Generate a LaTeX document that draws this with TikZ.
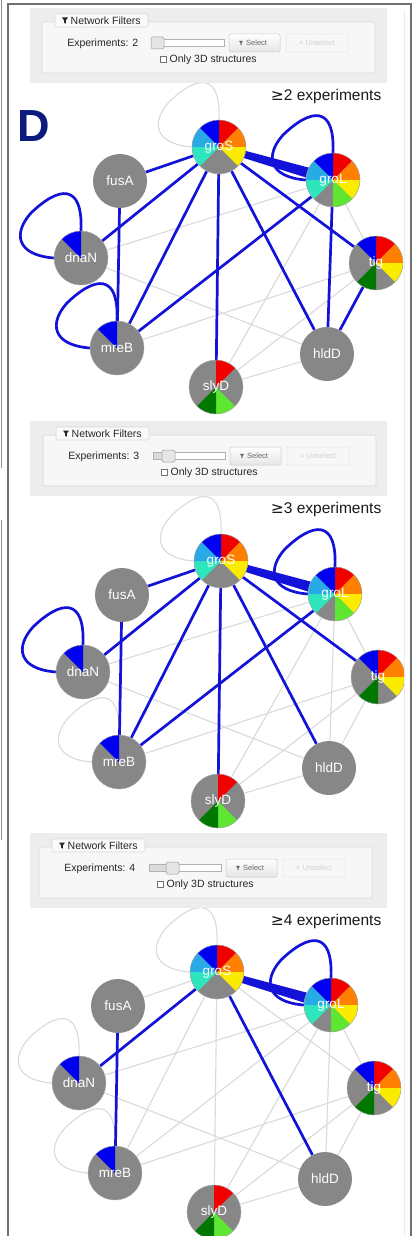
\documentclass[tikz,border=0pt]{standalone}
\usepackage{fontspec}
\setmainfont{Liberation Sans}
\newfontfamily\dejavu{DejaVu Sans}
\usetikzlibrary{calc}
\pgfdeclarelayer{bgfill}
\pgfdeclarelayer{edges}
\pgfdeclarelayer{pies}
\pgfsetlayers{bgfill,edges,pies,main}
\definecolor{nodegray}{HTML}{878787}
\definecolor{cR}{HTML}{F20000}
\definecolor{cO}{HTML}{FF7F00}
\definecolor{cY}{HTML}{FAEB00}
\definecolor{cLG}{HTML}{5FE632}
\definecolor{cDG}{HTML}{007800}
\definecolor{cT}{HTML}{2DE6BE}
\definecolor{cLB}{HTML}{28AAE6}
\definecolor{cB}{HTML}{0000F0}
\definecolor{edgeblue}{HTML}{1212D8}
\definecolor{edgegray}{HTML}{DADADA}
\definecolor{navy}{HTML}{0B1A7C}
\definecolor{panelbg}{HTML}{EDEDED}
\definecolor{framegray}{HTML}{707070}
\tikzset{
  pnode/.style={circle,minimum size=54pt,inner sep=0pt,text=white,font=\fontsize{13.5}{14}\selectfont},
  grayedge/.style={draw=edgegray,line width=1.1pt},
  blueedge/.style={draw=edgeblue,line width=2.7pt},
  uitext/.style={font=\fontsize{10.5}{12}\selectfont,text=black!85,inner sep=0pt},
  btntext/.style={font=\fontsize{7.5}{9}\selectfont,text=black!60,inner sep=0pt},
  offtext/.style={font=\fontsize{7.5}{9}\selectfont,text=black!18,inner sep=0pt},
  biglabel/.style={font=\fontsize{15.5}{17}\selectfont,text=black!90,inner sep=0pt},
  innerbox/.style={draw=black!15,fill=black!3,rounded corners=2pt,line width=0.6pt},
  tabbox/.style={draw=black!15,fill=black!2,rounded corners=2pt,line width=0.6pt},
  trackbox/.style={draw=black!30,fill=white,line width=0.5pt},
  handlebox/.style={draw=black!40,fill=black!10,rounded corners=1.5pt,line width=0.5pt},
  btnbox/.style={draw=black!22,top color=white,bottom color=black!10,rounded corners=2pt,line width=0.5pt},
  offbox/.style={draw=black!10,fill=black!3,rounded corners=2pt,line width=0.5pt},
  chkbox/.style={draw=black!55,fill=white,line width=0.5pt},
}
\newcommand{\drawpie}[2]{%
  \begin{scope}[shift={(#1.center)},x=1pt,y=1pt]
    \fill[nodegray] (0,0) circle[radius=27];
    \foreach \k/\c in {#2}{%
      \fill[fill=\c] (0,0) -- ({90-45*(\k-1)}:27) arc[start angle={90-45*(\k-1)}, end angle={90-45*\k}, radius=27] -- cycle;}
    \draw[draw=black!35,line width=0.4pt] (0,0) circle[radius=27];
  \end{scope}}
\newcommand{\graypie}[1]{%
  \fill[nodegray] (#1.center) circle[radius=27pt];}
\newcommand{\selfloop}[2]{%
  \draw[#1] (#2.north) .. controls ($(#2)+(2,-75)$) and ($(#2)+(-22,-72)$) .. ($(#2)+(-50,-45)$)
     .. controls ($(#2)+(-68,-25)$) and ($(#2)+(-65,-3)$) .. (#2.west);}
\newcommand{\funnelicon}[4]{% x y scale color
  \fill[#4,shift={(#1,#2)},scale=#3] (-3,-3) -- (3,-3) -- (0.8,0) -- (0.8,3.2) -- (-0.8,2.2) -- (-0.8,0) -- cycle;}
\newcommand{\filterbox}[4]{% dy, sx, n, handle x
  \begin{scope}[shift={(0,#1)}]
    \fill[panelbg] (30,8) rectangle (387,83);
    \begin{scope}[shift={(#2,0)}]
      \draw[innerbox] (42,22) rectangle (375,73);
      \draw[tabbox] (55,14) rectangle (148,27);
      \funnelicon{65}{20.5}{1}{black!85}
      \node[uitext,anchor=west] (nf#3) at (70.5,20.8) {Network Filters};
      \node[uitext,anchor=east] (ex#3) at (138.5,43.5) {Experiments: #3};
      \draw[trackbox] (152,39.5) rectangle (224,46.5);
      \fill[black!14] (152.5,40) rectangle (#4,46);
      \draw[handlebox] ({#4-6.5},37) rectangle ({#4+6.5},49);
      \draw[btnbox] (229,34) rectangle (280,52);
      \funnelicon{241}{43}{0.7}{black!60}
      \node[btntext,anchor=west] (sel#3) at (246,43.3) {Select};
      \draw[offbox] (286,34) rectangle (348,52);
      \node[offtext] (uns#3) at (317,43.3) {× Unselect};
      \draw[chkbox] (160,56) rectangle (166,62);
      \node[uitext,anchor=west] (only#3) at (169.5,59.5) {Only 3D structures};
    \end{scope}
    \node[biglabel,anchor=east] (lab#3) at (381.5,96.5) {{\dejavu ≥}#3 experiments};
  \end{scope}}
\newcommand{\network}[3]{% panel, dx, dy
  \begin{scope}[shift={(#2,#3)}]
    \node[pnode] (groS#1) at (219,147) {groS};
    \node[pnode] (groL#1) at (333,180) {groL};
    \node[pnode] (fusA#1) at (120,181) {fusA};
    \node[pnode] (dnaN#1) at (81,258) {dnaN};
    \node[pnode] (tig#1) at (376,263) {tig};
    \node[pnode] (mreB#1) at (117,348) {mreB};
    \node[pnode] (hldD#1) at (327,354) {hldD};
    \node[pnode] (slyD#1) at (216,387) {slyD};
  \end{scope}
  \begin{pgfonlayer}{pies}
    \drawpie{groS#1}{1/cR,2/cO,3/cY,6/cT,7/cLB,8/cB}
    \drawpie{groL#1}{1/cR,2/cO,3/cY,4/cLG,6/cT,7/cLB,8/cB}
    \drawpie{tig#1}{1/cR,2/cO,3/cY,5/cDG,8/cB}
    \drawpie{slyD#1}{1/cR,4/cLG,5/cDG}
    \drawpie{dnaN#1}{8/cB}
    \drawpie{mreB#1}{8/cB}
    \graypie{fusA#1}
    \graypie{hldD#1}
  \end{pgfonlayer}
  \begin{pgfonlayer}{edges}
    \foreach \a/\b/\L in {groS/dnaN/3,groS/hldD/3,fusA/mreB/3,groS/fusA/2,groS/mreB/2,groS/slyD/2,groS/tig/2,groL/mreB/2,groL/hldD/1,tig/hldD/1,groL/dnaN/0,groL/slyD/0,groL/tig/0,tig/mreB/0,tig/slyD/0,dnaN/hldD/0,slyD/hldD/0}{%
      \ifnum#1>\L\relax \draw[grayedge] (\a#1) -- (\b#1);\fi}
    \foreach \n/\L in {groS/0,groL/3,dnaN/2,mreB/1}{%
      \ifnum#1>\L\relax \selfloop{grayedge}{\n#1}\fi}
    \foreach \a/\b/\L in {groS/dnaN/3,groS/hldD/3,fusA/mreB/3,groS/fusA/2,groS/mreB/2,groS/slyD/2,groS/tig/2,groL/mreB/2,groL/hldD/1,tig/hldD/1,groL/dnaN/0,groL/slyD/0,groL/tig/0,tig/mreB/0,tig/slyD/0,dnaN/hldD/0,slyD/hldD/0}{%
      \ifnum#1>\L\relax\else \draw[blueedge] (\a#1) -- (\b#1);\fi}
    \foreach \n/\L in {groS/0,groL/3,dnaN/2,mreB/1}{%
      \ifnum#1>\L\relax\else \selfloop{blueedge}{\n#1}\fi}
    \fill[edgeblue] ($(groS#1)!24pt!(groL#1)!3.6pt!90:(groL#1)$) -- ($(groS#1)!24pt!(groL#1)!3.6pt!-90:(groL#1)$)
      -- ($(groL#1)!24pt!(groS#1)!5.2pt!90:(groS#1)$) -- ($(groL#1)!24pt!(groS#1)!5.2pt!-90:(groS#1)$) -- cycle;
  \end{pgfonlayer}}
\begin{document}
\begin{tikzpicture}[x=1pt,y=-1pt]
\useasboundingbox (0,0) rectangle (415,1236);
\begin{pgfonlayer}{bgfill}
\fill[white] (0,0) rectangle (415,1236);
\end{pgfonlayer}
% stray edges of the neighbouring panel
\draw[black!45,line width=1pt] (1,0) -- (1,468);
\draw[black!45,line width=1pt] (1,520) -- (1,840);
% frame
\draw[black!8,line width=0.6pt] (404,10) -- (404,1236);
\draw[framegray,line width=2pt] (8,1240) -- (8,4) -- (411,4) -- (411,1240);
\node[font=\fontsize{45}{45}\selectfont\bfseries,text=navy,anchor=base west,inner sep=0pt] (Dlabel) at (17,142) {D};
\filterbox{0}{0}{2}{157.5}
\filterbox{413}{1}{3}{167.5}
\filterbox{825}{-3}{4}{175.5}
\network{1}{0}{0}
\network{2}{2}{414}
\network{3}{-2}{825}
\end{tikzpicture}
\end{document}
